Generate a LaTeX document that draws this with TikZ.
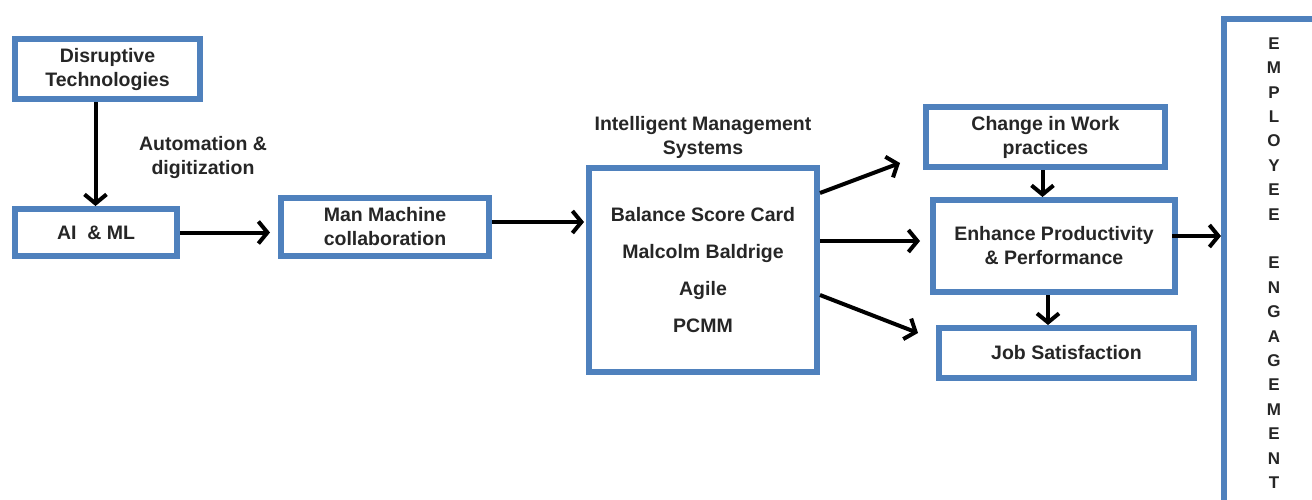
\documentclass[tikz,border=0pt]{standalone}
\usepackage{fontspec}
\setmainfont{Liberation Sans}
\usepackage{xcolor}
\usepackage{tikz}
\usetikzlibrary{positioning, arrows.meta}

\definecolor{boxblue}{RGB}{79,129,189}

\begin{document}
\begin{tikzpicture}[x=1pt, y=-1pt,
  every node/.style={font=\bfseries\fontsize{19.5}{24}\selectfont, text=black!85, align=center},
  box/.style={draw=boxblue, line width=6pt, fill=white, inner sep=0pt},
  link/.style={line width=4pt, -{Straight Barb[length=9pt, width=22pt]}}]
\useasboundingbox (0,0) rectangle (1312,499);
% boxes
\node[box, minimum width=185pt, minimum height=60pt] (dis) at (107.5,69) {Disruptive\\Technologies};
\node[box, minimum width=162pt, minimum height=47pt] (ai) at (96,232.5) {AI \ \& ML};
\node[box, minimum width=208pt, minimum height=58pt] (mmc) at (385,227) {Man Machine\\collaboration};
\node[box, minimum width=228pt, minimum height=204pt,
  font=\bfseries\fontsize{19.5}{37}\selectfont] (ims) at (703,270)
  {Balance Score Card\\Malcolm Baldrige\\Agile\\PCMM};
\node[above=3pt of ims] (imstitle) {Intelligent Management\\Systems};
\node[box, minimum width=239pt, minimum height=60pt] (cwp) at (1045.5,137) {Change in Work\\practices};
\node[box, minimum width=242pt, minimum height=92pt] (epp) at (1054,246) {Enhance Productivity\\\& Performance};
\node[box, minimum width=255pt, minimum height=50pt] (job) at (1066.5,353) {Job Satisfaction};
\node[box, anchor=north west, minimum width=100pt, minimum height=488pt,
  font=\bfseries\fontsize{17}{24.4}\selectfont] (engage) at (1221,16)
  {E\\M\\P\\L\\O\\Y\\E\\E\\~\\E\\N\\G\\A\\G\\E\\M\\E\\N\\T};
\node (auto) at (203,157) {Automation \&\\digitization};
% arrows
\draw[link] ([xshift=-12pt]dis.south) -- ([xshift=-12pt]dis.south |- ai.north);
\draw[link, shorten >=8pt] (ai.east) -- (ai.east -| mmc.west);
\draw[link, shorten >=2pt] ([yshift=5pt]mmc.east) -- ([yshift=5pt]mmc.east -| ims.west);
\draw[link] ([yshift=77pt]ims.east) -- ([shift={(-23pt,-26pt)}]cwp.west);
\draw[link, shorten >=10pt] ([yshift=29pt]ims.east) -- ([yshift=29pt]ims.east -| epp.west);
\draw[link] ([yshift=-25pt]ims.east) -- ([shift={(-18pt,20pt)}]job.west);
\draw[link] ([xshift=-3pt]cwp.south) -- ([xshift=-3pt]cwp.south |- epp.north);
\draw[link] ([xshift=-6pt]epp.south) -- ([xshift=-6pt]epp.south |- job.north);
\draw[link] ([shift={(-6pt,10pt)}]epp.east) -- ([yshift=10pt]epp.east -| engage.west);
\end{tikzpicture}
\end{document}
